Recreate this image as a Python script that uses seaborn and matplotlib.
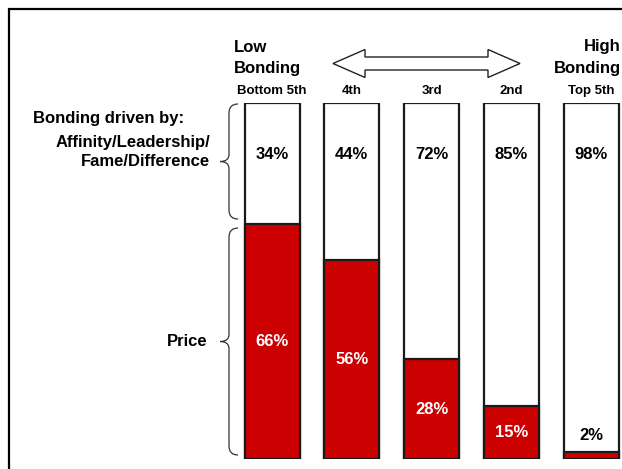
import matplotlib
matplotlib.use("Agg")
import matplotlib.pyplot as plt
from matplotlib.path import Path
from matplotlib.patches import PathPatch, Polygon
import seaborn as sns
import pandas as pd

# ---- data ----
segments = ["Bottom 5th", "4th", "3rd", "2nd", "Top 5th"]
price_pct = [66, 56, 28, 15, 2]
affinity_pct = [34, 44, 72, 85, 98]

sns.set_theme(style="white")
plt.rcParams["font.family"] = ["Liberation Sans", "DejaVu Sans"]
plt.rcParams["font.weight"] = "bold"
plt.rcParams["text.color"] = "black"
plt.rcParams["xtick.color"] = "black"

W, H = 622, 469
fig = plt.figure(figsize=(W / 100, H / 100), dpi=100)
fig.patch.set_facecolor("white")

# overlay for decorations (pixel coords, y down)
ov = fig.add_axes([0, 0, 1, 1])
ov.set_xlim(0, W)
ov.set_ylim(H, 0)
ov.axis("off")
ov.patch.set_visible(False)

# bar axes: bar bottom at px 459, top at px 103
bot_px, top_px = 459, 103
x_left_px, x_right_px = 192, 622
c0, step = 272, 79.75
ax = fig.add_axes([x_left_px / W, (H - bot_px) / H,
                   (x_right_px - x_left_px) / W, (bot_px - top_px) / H])
ax.patch.set_visible(False)

df = pd.DataFrame({
    "segment": segments,
    "total": [p + a for p, a in zip(price_pct, affinity_pct)],
    "price": price_pct,
    "affinity": affinity_pct,
})

bw = 55 / step
sns.barplot(data=df, x="segment", y="total", color="white", saturation=1,
            edgecolor="#1a1a1a", linewidth=1.6, width=bw, ax=ax, zorder=2)
sns.barplot(data=df, x="segment", y="price", color="#CC0000", saturation=1,
            edgecolor="#1a1a1a", linewidth=1.6, width=bw, ax=ax, zorder=3)

ax.set_xlim((x_left_px - c0) / step, (x_right_px - c0) / step)
ax.set_ylim(0, 100)
ax.set_xlabel("")
ax.set_ylabel("")
ax.set_yticks([])
for s in ax.spines.values():
    s.set_visible(False)
ax.xaxis.tick_top()
ax.tick_params(axis="x", length=0, pad=4, labelsize=9.5, labelcolor="black")
for t in ax.get_xticklabels():
    t.set_fontweight("bold")

fs = 12

# percent labels
for i, (p, a) in enumerate(zip(price_pct, affinity_pct)):
    ax.text(i, 85.4, f"{a}%", ha="center", va="center", fontsize=fs,
            fontweight="bold", color="black", zorder=5)
    if p >= 10:
        ax.text(i, p / 2, f"{p}%", ha="center", va="center", fontsize=fs,
                fontweight="bold", color="white", zorder=5)
    else:
        ax.text(i, p + 4.5, f"{p}%", ha="center", va="center", fontsize=fs,
                fontweight="bold", color="black", zorder=5)

# border
ov.plot([8.5, 8.5, W], [H, 9.5, 9.5], color="black", lw=1.6,
        solid_capstyle="butt", solid_joinstyle="miter")

# header texts
ov.text(234, 47, "Low", ha="left", va="center", fontsize=fs, fontweight="bold")
ov.text(234, 68, "Bonding", ha="left", va="center", fontsize=fs, fontweight="bold")
ov.text(621, 47, "High", ha="right", va="center", fontsize=fs, fontweight="bold")
ov.text(621, 68, "Bonding", ha="right", va="center", fontsize=fs, fontweight="bold")

# double arrow
xl, xr, yc = 333, 520, 63.5
hl, hh, sh = 32, 14, 6.5
arrow = Polygon([(xl, yc), (xl + hl, yc - hh), (xl + hl, yc - sh), (xr - hl, yc - sh),
                 (xr - hl, yc - hh), (xr, yc), (xr - hl, yc + hh), (xr - hl, yc + sh),
                 (xl + hl, yc + sh), (xl + hl, yc + hh)], closed=True,
                facecolor="white", edgecolor="#222222", lw=1.0)
ov.add_patch(arrow)

# left texts
ov.text(33, 119, "Bonding driven by:", ha="left", va="center", fontsize=fs, fontweight="bold")
ov.text(210, 142, "Affinity/Leadership/", ha="right", va="center", fontsize=fs, fontweight="bold")
ov.text(210, 162, "Fame/Difference", ha="right", va="center", fontsize=fs, fontweight="bold")


def brace(y0, y1, xr=238, xm=229, xt=220):
    ym = (y0 + y1) / 2
    verts = [(xr, y0), (xm, y0), (xm, y0 + 9),
             (xm, ym - 7),
             (xm, ym), (xt, ym),
             (xm, ym), (xm, ym + 7),
             (xm, y1 - 9),
             (xm, y1), (xr, y1)]
    codes = [Path.MOVETO, Path.CURVE3, Path.CURVE3, Path.LINETO,
             Path.CURVE3, Path.CURVE3, Path.CURVE3, Path.CURVE3,
             Path.LINETO, Path.CURVE3, Path.CURVE3]
    ov.add_patch(PathPatch(Path(verts, codes), facecolor="none",
                           edgecolor="#333333", lw=0.9))
    return ym


split_px = bot_px - (bot_px - top_px) * price_pct[0] / 100
ym1 = brace(top_px + 1, split_px - 5)
ym2 = brace(split_px + 4, bot_px - 4)
ov.text(207, ym2, "Price", ha="right", va="center", fontsize=fs, fontweight="bold")

fig.savefig("out.png", dpi=100, facecolor="white")
